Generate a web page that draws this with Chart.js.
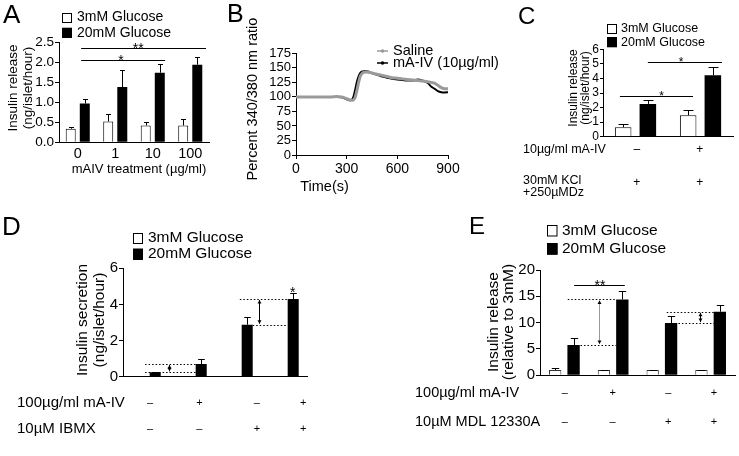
<!DOCTYPE html>
<html><head><meta charset="utf-8">
<script src="https://cdn.jsdelivr.net/npm/chart.js@4.4.1/dist/chart.umd.min.js"></script>
<style>
html,body{margin:0;padding:0;background:#fff;}
#wrap{position:relative;width:739px;height:456px;overflow:hidden;background:#fff;}
#wrap canvas{position:absolute;left:0;top:0;}
</style></head><body>
<div id="wrap">
<canvas id="cA" width="739" height="456"></canvas>
<canvas id="cB" width="739" height="456"></canvas>
<canvas id="cC" width="739" height="456"></canvas>
<canvas id="cD" width="739" height="456"></canvas>
<canvas id="cE" width="739" height="456"></canvas>
</div>
<script>
// ---------------- DATA ----------------
const glucoseLabels = ['3mM Glucose', '20mM Glucose'];

// Panel A
const catsA = ['0', '1', '10', '100'];
const a3mM = [0.34, 0.52, 0.42, 0.42];
const a3mMErr = [0.05, 0.19, 0.10, 0.17];
const a20mM = [0.97, 1.38, 1.74, 1.94];
const a20mMErr = [0.12, 0.42, 0.21, 0.20];

// Panel B
const lineLabelsB = ['Saline', 'mA-IV (10\u00b5g/ml)'];
const timeB = [0, 30, 60, 90, 120, 150, 180, 210, 240, 270, 300, 315, 330, 340, 350, 360, 370, 380, 390, 400, 420, 450, 480, 510, 540, 570, 600, 630, 660, 690, 720, 750, 780, 800, 820, 840, 860, 880, 900];
const salineB = [100, 100, 100, 100, 100, 100, 100, 100, 100.5, 100, 97, 95, 94, 95, 99, 110, 124, 135, 140, 142, 143, 141, 139, 137, 135, 133, 132, 131, 130, 129, 128, 127.5, 126, 125, 123.5, 120, 116, 114, 114];
const maivB = [100, 100, 100, 100, 100, 100, 100, 100, 100, 99.5, 96, 94, 95, 100, 112, 125, 135, 141, 143.5, 144, 144, 141, 138, 135, 133, 131, 130, 129, 128, 128, 130, 128, 124, 118, 114, 110, 108, 107.5, 108];

// Panel C
const catsC = ['-', '+'];
const c3mM = [0.65, 1.47];
const c3mMErr = [0.22, 0.34];
const c20mM = [2.25, 4.21];
const c20mMErr = [0.25, 0.60];

// Panel D
const catsD = ['1', '2', '3', '4'];
const d3mM = [0.02, 0.02, 0.02, 0.02];
const d20mM = [0.24, 0.70, 2.88, 4.30];
const d20mMErr = [0.04, 0.26, 0.41, 0.32];

// Panel E
const catsE = ['1', '2', '3', '4'];
const e3mM = [1.0, 1.0, 1.0, 1.0];
const e3mMErr = [0.3, 0.1, 0.08, 0.08];
const e20mM = [5.75, 14.42, 9.92, 12.07];
const e20mMErr = [1.27, 1.58, 1.38, 1.21];

// ---------------- HELPERS ----------------
const FF = '"Liberation Sans", Arial, Helvetica, sans-serif';
const PW = 739, PH = 456;

function txt(ctx, s, x, y, size, align, rot, color) {
  ctx.save();
  ctx.font = size + 'px ' + FF;
  ctx.fillStyle = color || '#000';
  ctx.textAlign = align || 'left';
  ctx.textBaseline = 'middle';
  ctx.translate(x, y);
  if (rot) ctx.rotate(rot);
  ctx.fillText(s, 0, 0);
  ctx.restore();
}
function star(ctx, s, x, yBottom, size) {
  ctx.save();
  ctx.font = size + 'px ' + FF;
  ctx.fillStyle = '#000';
  ctx.textAlign = 'center';
  ctx.textBaseline = 'alphabetic';
  ctx.fillText(s, x, yBottom + 0.45 * size);
  ctx.restore();
}

const extras = {
  id: 'extras',
  afterDatasetsDraw(chart, args, o) {
    const ctx = chart.ctx, xs = chart.scales.x, ys = chart.scales.y;
    ctx.save();
    ctx.strokeStyle = '#000';
    ctx.lineWidth = 1;
    chart.data.datasets.forEach((ds, di) => {
      if (!ds.errors) return;
      const meta = chart.getDatasetMeta(di);
      meta.data.forEach((bar, i) => {
        const e = ds.errors[i];
        if (!e) return;
        const yb = ys.getPixelForValue(ds.data[i]);
        const yt = Math.round(ys.getPixelForValue(ds.data[i] + e)) + 0.5;
        const hw = bar.width * (o.cap || 0.3);
        const xc = Math.round(bar.x) + 0.5;
        ctx.beginPath();
        ctx.moveTo(xc, yb); ctx.lineTo(xc, yt);
        ctx.moveTo(xc - hw, yt); ctx.lineTo(xc + hw, yt);
        ctx.stroke();
      });
    });
    (o.sig || []).forEach(s => {
      const x1 = xs.getPixelForValue(s.x1), x2 = xs.getPixelForValue(s.x2);
      const y = Math.round(ys.getPixelForValue(s.y)) + 0.5;
      ctx.beginPath(); ctx.moveTo(x1, y); ctx.lineTo(x2, y); ctx.stroke();
      star(ctx, s.t, xs.getPixelForValue(s.tx), y - 2, o.starSize || 14);
    });
    (o.stars || []).forEach(s => {
      star(ctx, s.t, xs.getPixelForValue(s.x), ys.getPixelForValue(s.y), o.starSize || 14);
    });
    ctx.save();
    ctx.setLineDash([1.5, 2]);
    (o.dotted || []).forEach(d => {
      const y = Math.round(ys.getPixelForValue(d.y)) + 0.5;
      ctx.beginPath();
      ctx.moveTo(xs.getPixelForValue(d.x1), y);
      ctx.lineTo(xs.getPixelForValue(d.x2), y);
      ctx.stroke();
    });
    ctx.restore();
    (o.arrows || []).forEach(a => {
      const x = Math.round(xs.getPixelForValue(a.x)) + 0.5;
      const yA = ys.getPixelForValue(a.y2), yB = ys.getPixelForValue(a.y1);
      ctx.strokeStyle = a.color || '#000';
      ctx.beginPath(); ctx.moveTo(x, yA + 1); ctx.lineTo(x, yB - 1); ctx.stroke();
      ctx.fillStyle = '#000';
      ctx.beginPath(); ctx.moveTo(x, yA + 1); ctx.lineTo(x - 2, yA + 4.5); ctx.lineTo(x + 2, yA + 4.5); ctx.closePath(); ctx.fill();
      ctx.beginPath(); ctx.moveTo(x, yB - 1); ctx.lineTo(x - 2, yB - 4.5); ctx.lineTo(x + 2, yB - 4.5); ctx.closePath(); ctx.fill();
    });
    ctx.restore();
  },
  afterDraw(chart, args, o) {
    const ctx = chart.ctx, xs = chart.scales.x;
    if (o.letter) {
      ctx.save();
      ctx.font = o.letter.size + 'px ' + FF;
      ctx.fillStyle = '#000';
      ctx.textBaseline = 'alphabetic';
      ctx.fillText(o.letter.t, o.letter.x, o.letter.y);
      ctx.restore();
    }
    if (o.legend) {
      const L = o.legend;
      chart.data.datasets.forEach((ds, i) => {
        const y = L.ys[i];
        ctx.save();
        if (L.type === 'line') {
          ctx.strokeStyle = ds.borderColor; ctx.lineWidth = 1.5;
          ctx.beginPath(); ctx.moveTo(L.x, y); ctx.lineTo(L.x + L.len, y); ctx.stroke();
          ctx.fillStyle = ds.borderColor;
          ctx.beginPath(); ctx.arc(L.x + L.len / 2, y, 1.8, 0, Math.PI * 2); ctx.fill();
        } else {
          ctx.fillStyle = ds.backgroundColor;
          ctx.fillRect(L.x, y - L.h / 2, L.w, L.h);
          ctx.strokeStyle = '#000'; ctx.lineWidth = 1;
          ctx.strokeRect(Math.round(L.x) + 0.5, Math.round(y - L.h / 2) + 0.5, L.w - 1, L.h - 1);
        }
        ctx.restore();
        txt(ctx, ds.label, L.tx, y, L.size, 'left');
      });
    }
    if (o.ytitle) {
      o.ytitle.lines.forEach((s, i) => txt(ctx, s, o.ytitle.xs[i], o.ytitle.cy, o.ytitle.size, 'center', -Math.PI / 2));
    }
    if (o.xtitle) txt(ctx, o.xtitle.t, o.xtitle.x, o.xtitle.y, o.xtitle.size, 'center');
    (o.rows || []).forEach(r => {
      r.labels.forEach((s, i) => txt(ctx, s, r.lx, r.ly[i], r.size, 'left'));
      r.signs.forEach((s, i) => txt(ctx, s, xs.getPixelForValue(r.pos[i]), r.y, r.signSize, 'center'));
    });
  }
};

function yAxis(max, step, fs, Wy, tl, pad, fmt) {
  return {
    type: 'linear', min: 0, max: max,
    ticks: { stepSize: step, autoSkip: false, color: '#000', font: { family: FF, size: fs }, padding: pad, callback: fmt || (v => String(v)) },
    grid: { display: true, drawOnChartArea: false, drawTicks: true, tickLength: tl, color: '#000', lineWidth: 1 },
    border: { display: true, color: '#000', width: 1 },
    afterFit: s => { s.width = Wy; }
  };
}
function pad(area, Wy, Hx) {
  return { left: area.L - Wy, top: area.T, right: PW - area.R, bottom: PH - area.B - Hx };
}
function barChart(id, area, Wy, Hx, cats, sets, yopt, xTicks, extrasOpt) {
  return new Chart(document.getElementById(id), {
    type: 'bar',
    data: { labels: cats, datasets: sets },
    options: {
      responsive: false, animation: false, events: [], devicePixelRatio: 1,
      layout: { padding: pad(area, Wy, Hx) },
      scales: {
        x: {
          type: 'category',
          ticks: xTicks ? { display: true, color: '#000', font: { family: FF, size: xTicks.size }, padding: xTicks.pad, maxRotation: 0, autoSkip: false } : { display: false },
          grid: { display: false, drawTicks: false },
          border: { display: true, color: '#000', width: 1 },
          afterFit: s => { s.height = Hx; }
        },
        y: yopt
      },
      plugins: { legend: { display: false }, tooltip: { enabled: false }, extras: extrasOpt }
    },
    plugins: [extras]
  });
}
function twoSets(v3, e3, v20, e20, catPct, barPct, whiteBorder) {
  return [
    { label: glucoseLabels[0], data: v3, errors: e3, backgroundColor: '#fff', borderColor: whiteBorder, borderWidth: 1, categoryPercentage: catPct, barPercentage: barPct },
    { label: glucoseLabels[1], data: v20, errors: e20, backgroundColor: '#000', borderColor: '#000', borderWidth: 0, categoryPercentage: catPct, barPercentage: barPct }
  ];
}

// ---------------- PANEL A ----------------
barChart('cA', { L: 59, T: 42.3, R: 209, B: 142.3 }, 50, 20, catsA,
  twoSets(a3mM, a3mMErr, a20mM, a20mMErr, 0.75, 0.71, '#000'),
  yAxis(2.5, 0.5, 13.5, 50, 4, 1, v => v.toFixed(1)),
  { size: 14.5, pad: 3 },
  {
    cap: 0.25, starSize: 14,
    sig: [{ x1: 0.09, x2: 2.33, y: 2.07, t: '*', tx: 1.15 }, { x1: 0.09, x2: 3.42, y: 2.36, t: '**', tx: 1.61 }],
    letter: { t: 'A', x: 3, y: 23, size: 26 },
    legend: { x: 62, ys: [17.5, 32.7], w: 10, h: 10, tx: 77, size: 14 },
    ytitle: { lines: ['Insulin release', '(ng/islet/hour)'], xs: [13, 28], cy: 88, size: 13.5 },
    xtitle: { t: 'mAIV treatment (\u00b5g/ml)', x: 139, y: 169, size: 13 }
  });

// ---------------- PANEL B ----------------
new Chart(document.getElementById('cB'), {
  type: 'line',
  data: {
    datasets: [
      { label: lineLabelsB[0], data: timeB.map((t, i) => ({ x: t, y: salineB[i] })), borderColor: '#9a9a9a', borderWidth: 3, pointRadius: 0, cubicInterpolationMode: 'monotone', fill: false },
      { label: lineLabelsB[1], data: timeB.map((t, i) => ({ x: t, y: maivB[i] })), borderColor: '#000', borderWidth: 2, pointRadius: 0, cubicInterpolationMode: 'monotone', fill: false }
    ]
  },
  options: {
    responsive: false, animation: false, events: [], devicePixelRatio: 1,
    layout: { padding: pad({ L: 296, T: 53.3, R: 448, B: 155 }, 40, 30) },
    scales: {
      x: {
        type: 'linear', min: 0, max: 900,
        ticks: { stepSize: 300, color: '#000', font: { family: FF, size: 14 }, padding: 2, maxRotation: 0 },
        grid: { display: true, drawOnChartArea: false, drawTicks: true, tickLength: 4, color: '#000' },
        border: { display: true, color: '#000', width: 1 },
        afterFit: s => { s.height = 30; }
      },
      y: yAxis(175, 25, 13, 40, 4, 1)
    },
    plugins: {
      legend: { display: false }, tooltip: { enabled: false },
      extras: {
        letter: { t: 'B', x: 227, y: 22, size: 25 },
        legend: { type: 'line', x: 377, len: 11, ys: [51, 63], tx: 393, size: 14.5 },
        ytitle: { lines: ['Percent 340/380 nm ratio'], xs: [253], cy: 99, size: 14.5 },
        xtitle: { t: 'Time(s)', x: 324.5, y: 187, size: 14.5 }
      }
    }
  },
  plugins: [extras]
});

// ---------------- PANEL C ----------------
barChart('cC', { L: 603, T: 49.3, R: 733, B: 136.7 }, 30, 5, catsC,
  twoSets(c3mM, c3mMErr, c20mM, c20mMErr, 0.76, 0.67, '#000'),
  yAxis(6, 1, 12, 30, 3, 1),
  null,
  {
    cap: 0.3, starSize: 12,
    sig: [{ x1: -0.24, x2: 0.885, y: 2.8, t: '*', tx: 0.40 }, { x1: 0.19, x2: 1.33, y: 5.15, t: '*', tx: 0.70 }],
    letter: { t: 'C', x: 518, y: 24, size: 24 },
    legend: { x: 607, ys: [28.7, 42.3], w: 10, h: 10, tx: 621, size: 12.5 },
    ytitle: { lines: ['Insulin release', '(ng/islet/hour)'], xs: [574, 586], cy: 88, size: 12 },
    rows: [
      { labels: ['10\u00b5g/ml mA-IV'], lx: 523, ly: [150], size: 12.5, signs: ['\u2013', '+'], pos: [0.02, 0.99], y: 150, signSize: 12 },
      { labels: ['30mM KCl', '+250\u00b5MDz'], lx: 523, ly: [181, 193], size: 12.5, signs: ['+', '+'], pos: [0.02, 0.99], y: 183, signSize: 12 }
    ]
  });

// ---------------- PANEL D ----------------
barChart('cD', { L: 123, T: 268.3, R: 307, B: 376.7 }, 40, 5, catsD,
  twoSets(d3mM, null, d20mM, d20mMErr, 0.8, 0.6, '#888'),
  yAxis(6, 2, 15, 40, 4, 1),
  null,
  {
    cap: 0.3, starSize: 14,
    dotted: [{ y: 0.70, x1: -0.02, x2: 1.1 }, { y: 0.24, x1: -0.02, x2: 1.1 }, { y: 4.30, x1: 2.04, x2: 3.31 }, { y: 2.88, x1: 2.32, x2: 3.06 }],
    arrows: [{ x: 0.5, y1: 0.24, y2: 0.70 }, { x: 2.46, y1: 2.88, y2: 4.30 }],
    stars: [{ x: 3.19, y: 4.76, t: '*' }],
    letter: { t: 'D', x: 2, y: 235, size: 26 },
    legend: { x: 133, ys: [238, 254], w: 10, h: 11, tx: 148, size: 15.5 },
    ytitle: { lines: ['Insulin secretion', '(ng/islet/hour)'], xs: [82.5, 100], cy: 320, size: 15.5 },
    rows: [
      { labels: ['100\u00b5g/ml mA-IV'], lx: 17, ly: [402.7], size: 15, signs: ['\u2013', '+', '\u2013', '+'], pos: [0.09, 1.16, 2.41, 3.42], y: 402.7, signSize: 11 },
      { labels: ['10\u00b5M IBMX'], lx: 17, ly: [429.3], size: 15, signs: ['\u2013', '\u2013', '+', '+'], pos: [0.09, 1.16, 2.41, 3.42], y: 429.3, signSize: 11 }
    ]
  });

// ---------------- PANEL E ----------------
barChart('cE', { L: 540, T: 270, R: 735, B: 375.3 }, 40, 5, catsE,
  twoSets(e3mM, e3mMErr, e20mM, e20mMErr, 0.755, 0.67, '#333'),
  yAxis(20, 5, 15, 40, 4, 1),
  null,
  {
    cap: 0.3, starSize: 14,
    sig: [{ x1: 0.2, x2: 1.24, y: 17.1, t: '**', tx: 0.73 }],
    dotted: [{ y: 14.42, x1: 0.07, x2: 1.07 }, { y: 5.75, x1: 0.33, x2: 1.07 }, { y: 12.07, x1: 2.10, x2: 3.09 }, { y: 9.92, x1: 2.34, x2: 3.09 }],
    arrows: [{ x: 0.71, y1: 5.75, y2: 14.42, color: '#999' }, { x: 2.78, y1: 9.92, y2: 12.07 }],
    letter: { t: 'E', x: 469, y: 234, size: 24 },
    legend: { x: 547, ys: [231, 249], w: 10.5, h: 11.5, tx: 562, size: 15.5 },
    ytitle: { lines: ['Insulin release', '(relative to 3mM)'], xs: [493.5, 508.5], cy: 322, size: 15.5 },
    rows: [
      { labels: ['100\u00b5g/ml mA-IV'], lx: 415, ly: [392.7], size: 14.5, signs: ['\u2013', '+', '\u2013', '+'], pos: [0.01, 0.99, 2.13, 3.07], y: 392.7, signSize: 11 },
      { labels: ['10\u00b5M MDL 12330A'], lx: 415, ly: [421.7], size: 14.5, signs: ['\u2013', '\u2013', '+', '+'], pos: [0.01, 0.99, 2.13, 3.07], y: 421.7, signSize: 11 }
    ]
  });
</script>
</body></html>
